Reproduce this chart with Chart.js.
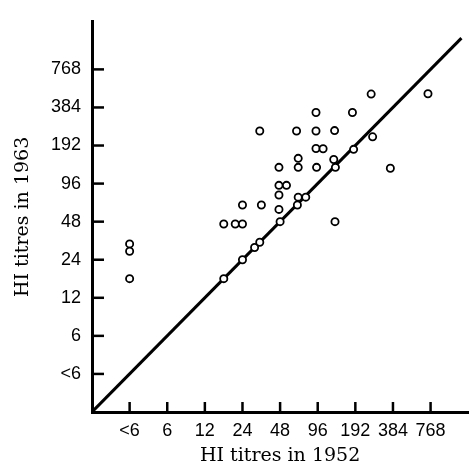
<!DOCTYPE html>
<html>
<head>
<meta charset="utf-8">
<script src="https://cdn.jsdelivr.net/npm/chart.js@4/dist/chart.umd.min.js"></script>
<style>
  html, body { margin: 0; padding: 0; background: #fff; }
  canvas { display: block; }
</style>
</head>
<body>
<canvas id="chart" width="474" height="472"></canvas>
<script>
// tick values on both axes (titres); "<6" sits one doubling below 6
const tickValues = [3, 6, 12, 24, 48, 96, 192, 384, 768];
const tickLabels = ['<6', '6', '12', '24', '48', '96', '192', '384', '768'];

// HI titres, one entry per serum
const titres1952 = [3, 3, 3, 17, 17, 21, 24, 24, 34, 24, 30, 33, 33, 48, 47, 47, 47, 54, 47, 66,
    67, 77, 67, 67, 65, 93, 93, 93, 106, 94, 129, 131, 133, 132, 182, 186, 257, 264, 366, 732];
const titres1963 = [32, 28, 17, 17, 46, 46, 46, 65, 65, 24, 30, 33, 250, 48, 60, 78, 93, 93, 129, 65,
    75, 75, 152, 129, 250, 350, 250, 182, 181, 129, 149, 252, 129, 48, 350, 179, 490, 225, 127, 493];

// line of equality
const equalityLine = [1.5, 1.5 * Math.pow(2, 9.82)];

const points = titres1952.map((x, i) => ({ x: x, y: titres1963[i] }));

const tickFont = { family: "'Liberation Sans', Arial, sans-serif", size: 18 };
const titleFont = { family: "'DejaVu Serif', serif", size: 19, lineHeight: 1.2 };

// ticks in this figure point inwards from the axes
const innerTicks = {
    id: 'innerTicks',
    afterDatasetsDraw(chart) {
        const ctx = chart.ctx;
        const xs = chart.scales.x, ys = chart.scales.y;
        const area = chart.chartArea;
        ctx.save();
        ctx.strokeStyle = '#000';
        ctx.lineWidth = 2.5;
        tickValues.forEach(v => {
            const px = xs.getPixelForValue(v);
            ctx.beginPath();
            ctx.moveTo(px, area.bottom);
            ctx.lineTo(px, area.bottom - 10);
            ctx.stroke();
            const py = ys.getPixelForValue(v);
            ctx.beginPath();
            ctx.moveTo(area.left, py);
            ctx.lineTo(area.left + 12, py);
            ctx.stroke();
        });
        ctx.restore();
    }
};

function setTicks(scale) {
    scale.ticks = tickValues.map(v => ({ value: v }));
}

new Chart(document.getElementById('chart'), {
    type: 'scatter',
    data: {
        datasets: [{
            data: points,
            order: 0,
            pointStyle: 'circle',
            pointRadius: 3.6,
            pointBorderWidth: 1.8,
            pointBorderColor: '#000',
            pointBackgroundColor: '#fff'
        }, {
            data: equalityLine.map(v => ({ x: v, y: v })),
            order: 1,
            showLine: true,
            borderColor: '#000',
            borderWidth: 3,
            pointRadius: 0
        }]
    },
    options: {
        responsive: false,
        animation: false,
        devicePixelRatio: 1,
        layout: {
            padding: { top: 7, right: 2, left: 0, bottom: 0 }
        },
        plugins: {
            legend: { display: false },
            tooltip: { enabled: false }
        },
        scales: {
            x: {
                type: 'logarithmic',
                min: 1.5,
                max: 1536,
                afterBuildTicks: setTicks,
                afterFit: function(scale) { scale.height = 60; },
                grid: { display: false, drawTicks: false },
                border: { display: true, color: '#000', width: 3 },
                ticks: {
                    autoSkip: false,
                    maxRotation: 0,
                    padding: 8,
                    color: '#000',
                    font: tickFont,
                    callback: function(value, index) {
                        return tickLabels[index];
                    }
                },
                title: {
                    display: true,
                    text: 'HI titres in 1952',
                    color: '#000',
                    font: titleFont,
                    padding: { top: 0, bottom: 5 }
                }
            },
            y: {
                type: 'logarithmic',
                min: 1.5,
                max: 1.5 * Math.pow(2, 10.25),
                afterBuildTicks: setTicks,
                afterFit: function(scale) { scale.width = 92; },
                grid: { display: false, drawTicks: false },
                border: { display: true, color: '#000', width: 3 },
                ticks: {
                    autoSkip: false,
                    padding: 11,
                    color: '#000',
                    font: tickFont,
                    callback: function(value, index) {
                        return tickLabels[index];
                    }
                },
                title: {
                    display: true,
                    text: 'HI titres in 1963',
                    color: '#000',
                    font: titleFont,
                    padding: { top: 12, bottom: 0 }
                }
            }
        }
    },
    plugins: [innerTicks]
});
</script>
</body>
</html>
